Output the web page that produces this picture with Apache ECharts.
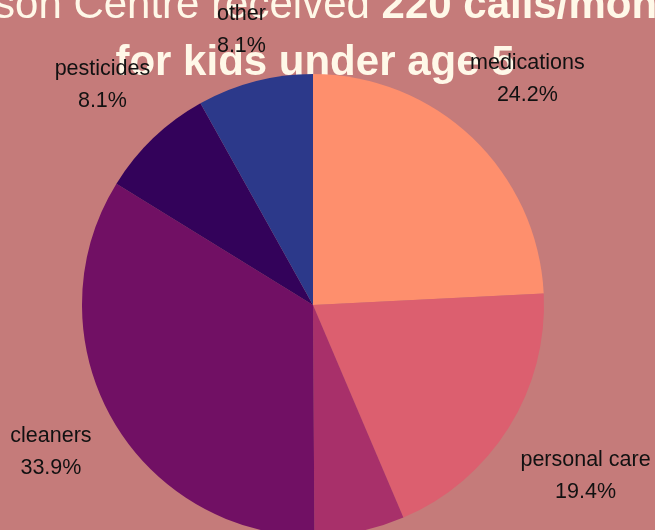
<!DOCTYPE html>
<html>
<head>
<meta charset="utf-8">
<script src="https://cdn.jsdelivr.net/npm/echarts@6/dist/echarts.min.js"></script>
<style>html,body{margin:0;padding:0;background:#C57B7A;}#main{width:655px;height:530px;}</style>
</head>
<body>
<div id="main"></div>
<script>
var categories = ['medications', 'personal care', 'plants', 'cleaners', 'pesticides', 'other'];
var values = [24.2, 19.4, 6.3, 33.9, 8.1, 8.1];
var colors = ['#FE8F6D', '#DC5F6F', '#A8306A', '#711064', '#33025A', '#2C398A'];
var titleLine1Normal = 'Poison Centre received ';
var titleLine1Bold = '220 calls/month';
var titleLine2 = 'for kids under age 5';

var CX = 313, CY = 305, R = 231, LABEL_GAP = 21;
var total = values.reduce(function (a, b) { return a + b; }, 0);
var midAngles = [];
(function () {
  var cum = 0;
  values.forEach(function (v) { midAngles.push((cum + v / 2) / total * Math.PI * 2); cum += v; });
})();

var data = categories.map(function (c, i) { return { name: c, value: values[i] }; });
var chart = echarts.init(document.getElementById('main'));
chart.setOption({
  backgroundColor: '#C57B7A',
  animation: false,
  title: {
    text: '{n|' + titleLine1Normal + '}{b|' + titleLine1Bold + '}\n{b|' + titleLine2 + '}',
    left: 310,
    textAlign: 'center',
    top: -27,
    z: 1,
    textStyle: {
      rich: {
        n: { fontFamily: 'Liberation Sans', fontSize: 42, fontWeight: 'normal', color: '#FFF8E8', lineHeight: 57 },
        b: { fontFamily: 'Liberation Sans', fontSize: 42, fontWeight: 'bold', color: '#FFF8E8', lineHeight: 57 }
      }
    }
  },
  series: [
    {
      type: 'pie',
      center: [CX, CY],
      radius: [0, R],
      startAngle: 90,
      clockwise: true,
      color: colors,
      data: data,
      z: 5,
      label: {
        show: true,
        position: 'inside',
        formatter: '{b}\n{c}%',
        fontFamily: 'Liberation Sans',
        fontSize: 21.5,
        lineHeight: 32,
        color: '#111',
        align: 'center'
      },
      labelLine: { show: false },
      labelLayout: function (p) {
        var a = midAngles[p.dataIndex];
        var ux = Math.sin(a), uy = -Math.cos(a);
        var hw = p.labelRect.width / 2, hh = p.labelRect.height / 2 - 5;
        var d = R + LABEL_GAP + hw * Math.abs(ux) + hh * Math.abs(uy);
        return { x: CX + d * ux, y: CY + d * uy, align: 'center', verticalAlign: 'middle' };
      },
      itemStyle: { borderWidth: 0 },
      silent: true
    }
  ]
});
</script>
</body>
</html>
